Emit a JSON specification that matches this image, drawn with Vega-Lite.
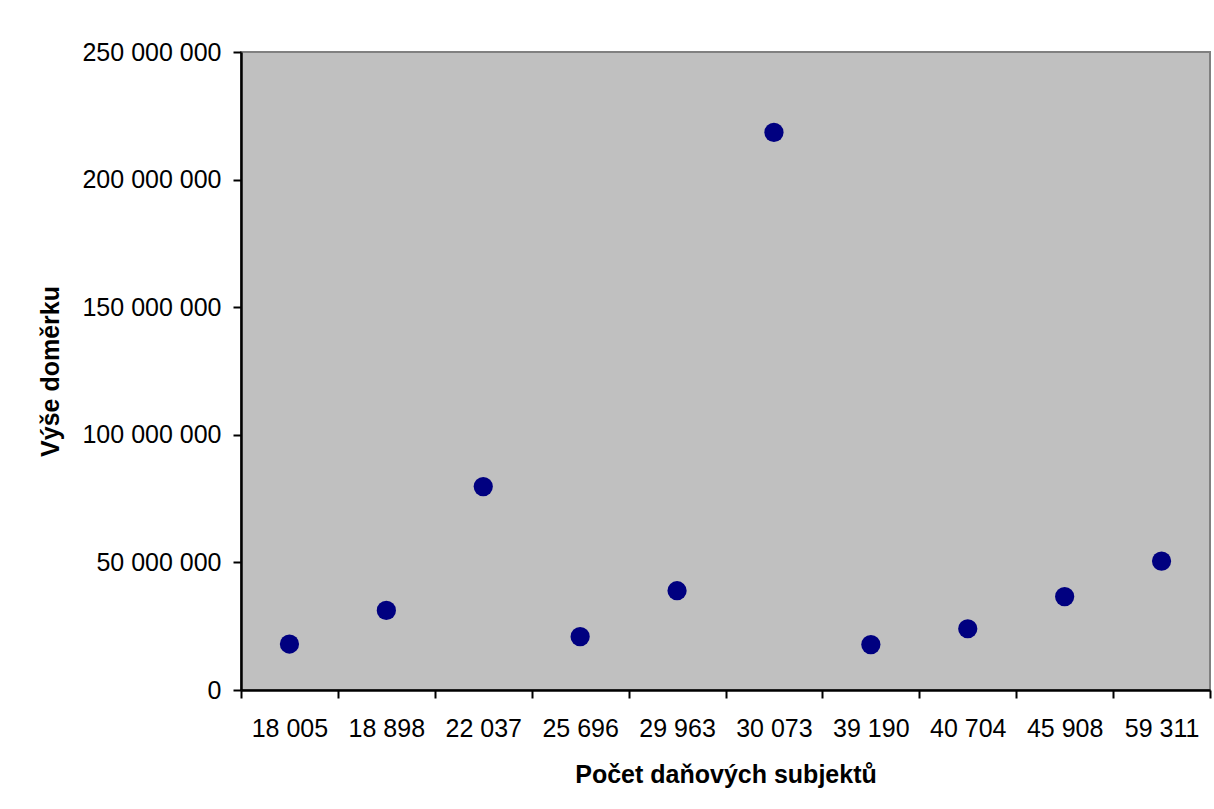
{
  "$schema": "https://vega.github.io/schema/vega-lite/v6.json",
  "autosize": {"type": "none"},
  "padding": {"left": 241, "top": 52, "right": 4, "bottom": 119},
  "width": 969,
  "height": 638,
  "background": "#ffffff",
  "data": {
    "values": [
      {"subjekty": "18 005", "domerek": 18000000},
      {"subjekty": "18 898", "domerek": 31200000},
      {"subjekty": "22 037", "domerek": 79700000},
      {"subjekty": "25 696", "domerek": 20900000},
      {"subjekty": "29 963", "domerek": 38900000},
      {"subjekty": "30 073", "domerek": 218500000},
      {"subjekty": "39 190", "domerek": 17800000},
      {"subjekty": "40 704", "domerek": 24000000},
      {"subjekty": "45 908", "domerek": 36600000},
      {"subjekty": "59 311", "domerek": 50500000}
    ]
  },
  "mark": {"type": "point", "filled": true, "shape": "circle", "size": 370, "color": "#000080", "opacity": 1},
  "encoding": {
    "x": {
      "field": "subjekty",
      "type": "ordinal",
      "sort": null,
      "scale": {"type": "band", "paddingInner": 0, "paddingOuter": 0},
      "axis": {
        "title": "Počet daňových subjektů",
        "tickBand": "extent",
        "labelAngle": 0,
        "labelOverlap": false,
        "labelPadding": 18,
        "titlePadding": 21
      }
    },
    "y": {
      "field": "domerek",
      "type": "quantitative",
      "scale": {"domain": [0, 250000000], "nice": false},
      "axis": {
        "title": "Výše doměrku",
        "values": [0, 50000000, 100000000, 150000000, 200000000, 250000000],
        "format": ",d",
        "labelPadding": 12,
        "titlePadding": 18,
        "grid": false
      }
    }
  },
  "config": {
    "locale": {"number": {"decimal": ",", "thousands": " ", "grouping": [3], "currency": ["", " Kč"]}},
    "font": "Liberation Sans",
    "view": {"fill": "#c0c0c0", "stroke": "#808080", "strokeWidth": 2},
    "axis": {
      "domainColor": "#000000",
      "domainWidth": 2.5,
      "tickColor": "#000000",
      "tickWidth": 2,
      "tickSize": 8,
      "labelFont": "Liberation Sans",
      "labelFontSize": 25,
      "labelColor": "#000000",
      "titleFont": "Liberation Sans",
      "titleFontSize": 25,
      "titleFontWeight": "bold",
      "titleColor": "#000000",
      "grid": false
    }
  }
}
